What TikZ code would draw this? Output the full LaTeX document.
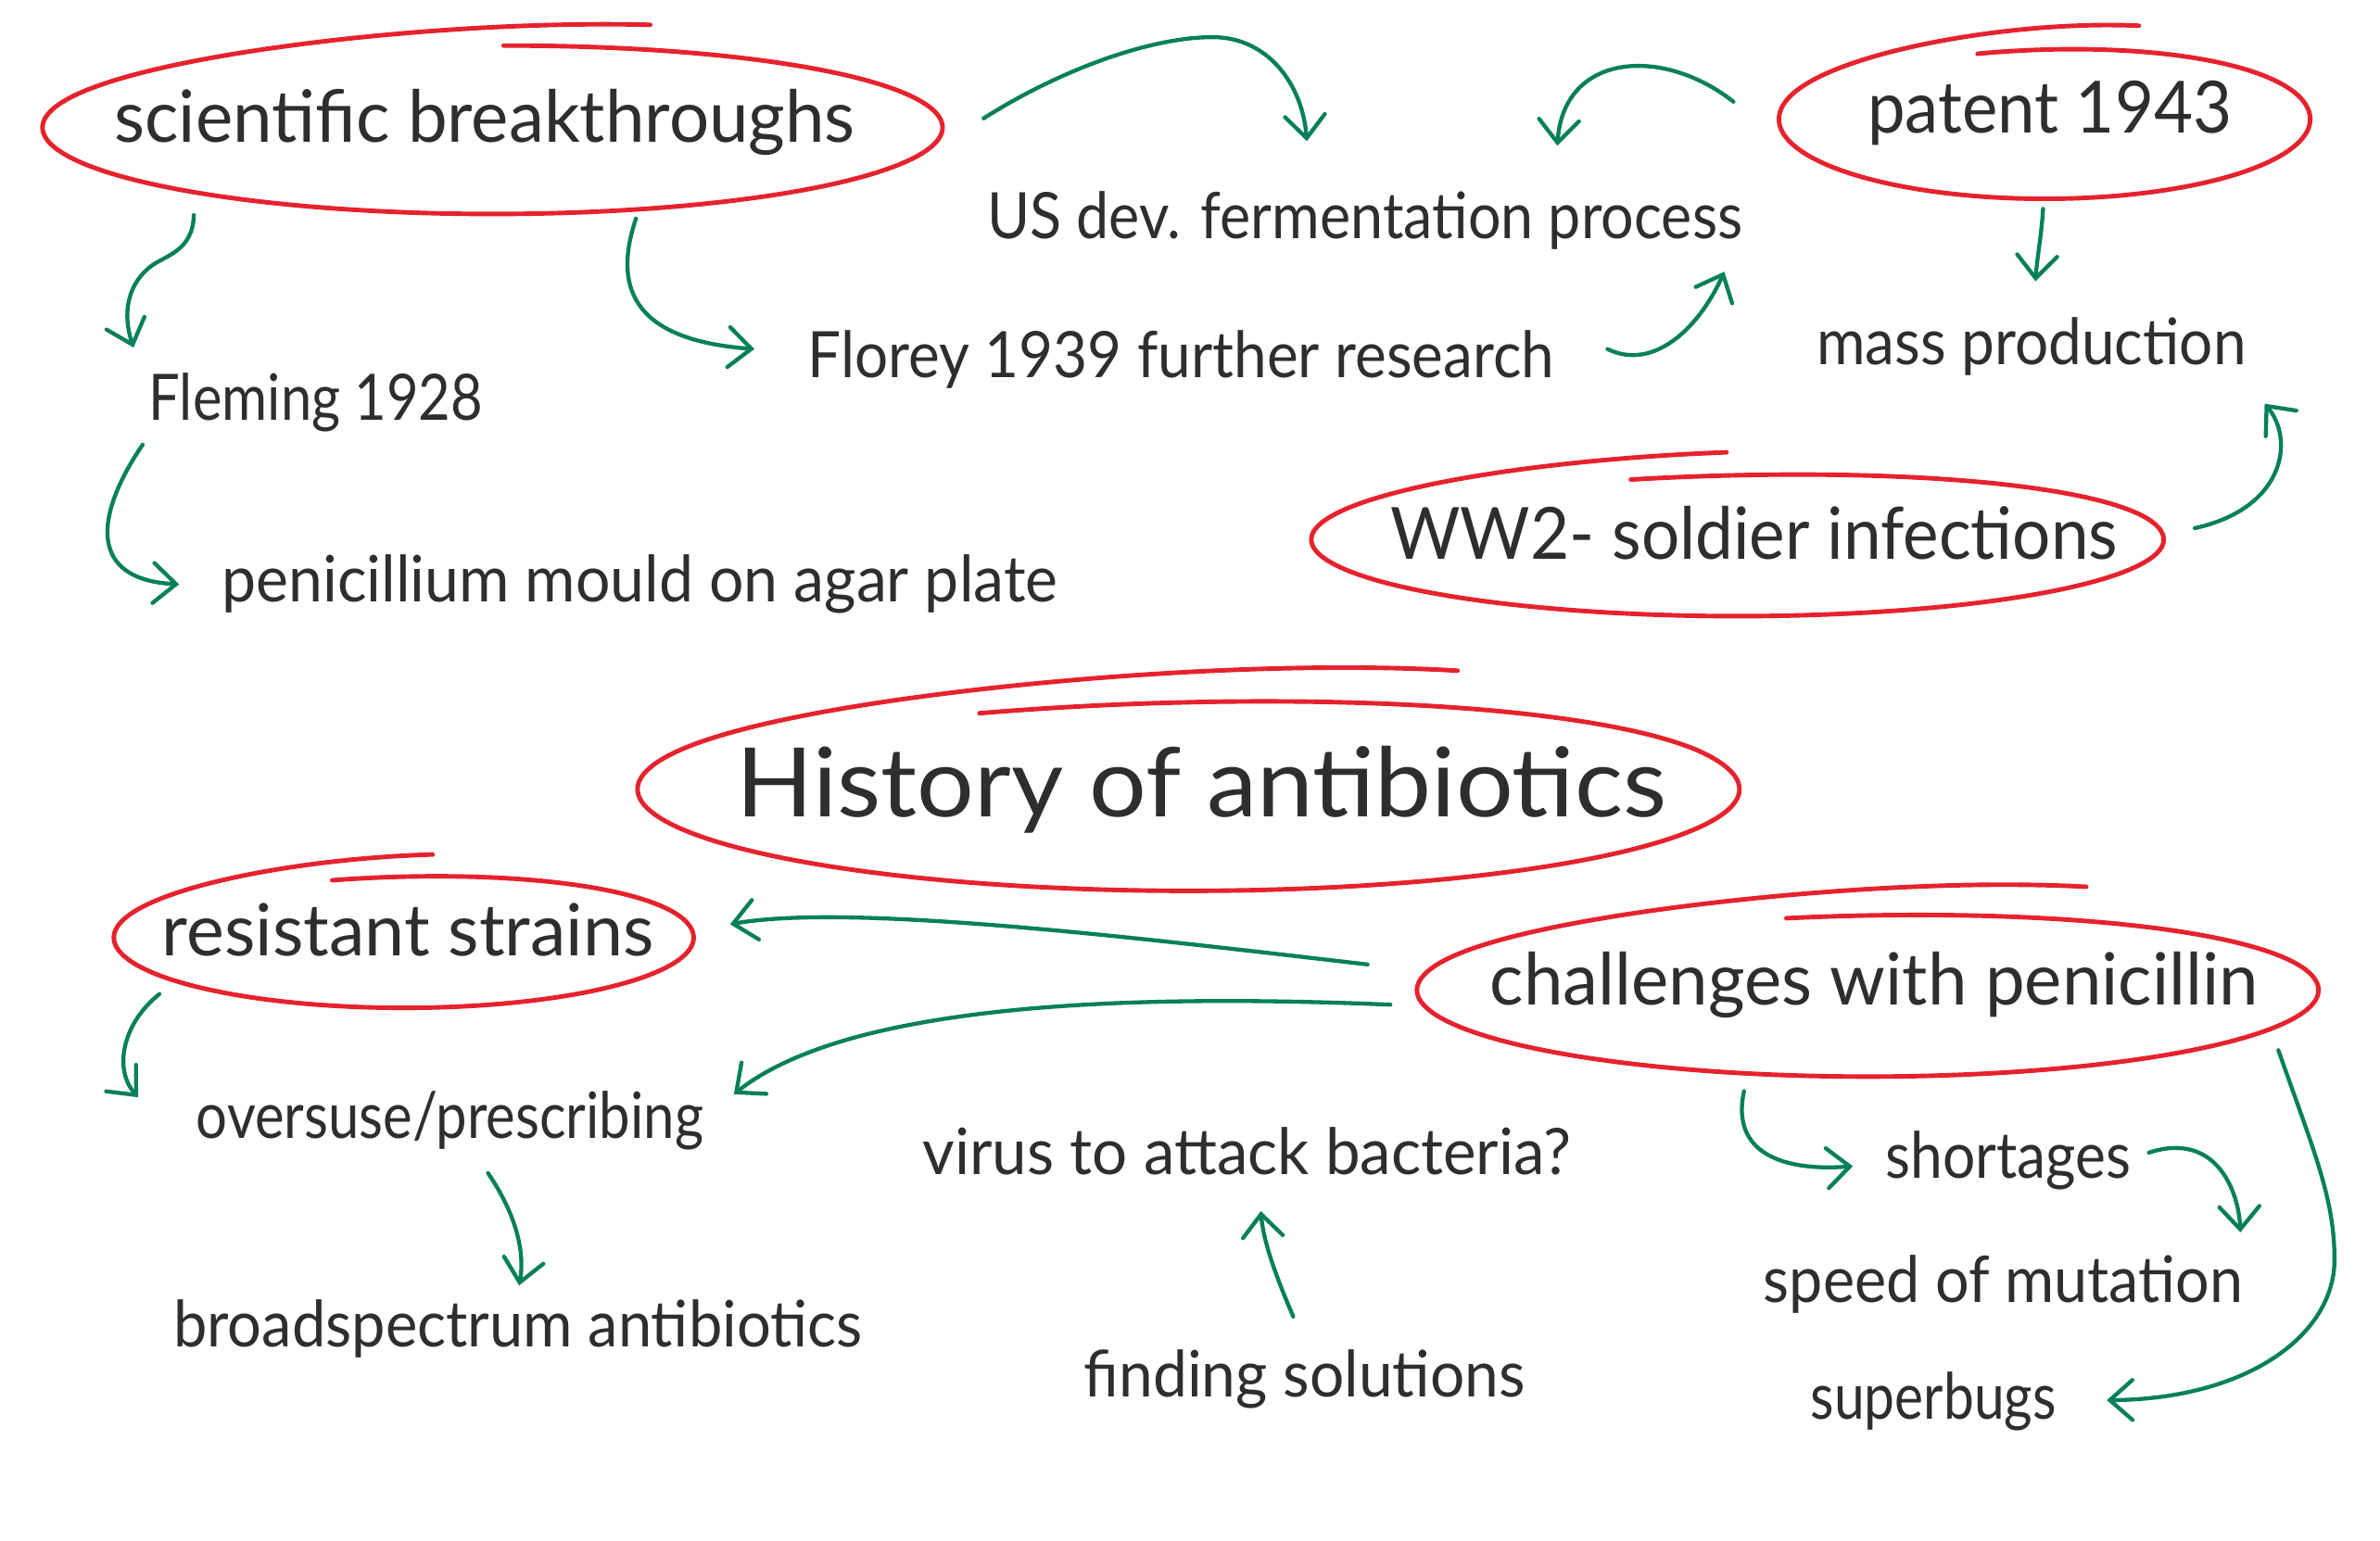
\documentclass[tikz,border=0pt]{standalone}
\usepackage{fontspec}
\setmainfont{Lato}
\usepackage{graphicx}
\usetikzlibrary{arrows.meta}
\definecolor{redl}{HTML}{E6222D}
\definecolor{greenl}{HTML}{06805A}
\definecolor{ink}{HTML}{2E2E2E}
\newsavebox\fitbox
\newcommand{\fitw}[2]{\sbox\fitbox{#2}\pgfmathsetmacro\fitr{#1*0.56693/\wd\fitbox}\scalebox{\fitr}[1]{\usebox\fitbox}}
% cx cy rx ry tstart tend Fstart Fend
\newcommand{\sketchloop}[8]{%
  \pgfmathsetmacro\skD{#5-#6+360}%
  \draw[redline] plot[domain=0:1, samples=240, variable=\s]
   ({#1+#3*cos(#5-\s*\skD)},{#2-#4*(1+(#7-1)*max(0,1-\s*\skD/90)+(#8-1)*(max(0,1-(1-\s)*\skD/90))^2)*sin(#5-\s*\skD)});
}
\begin{document}
\begin{tikzpicture}[x=0.02cm,y=-0.02cm,
  redline/.style={draw=redl, line width=1.7pt, line cap=round, line join=round},
  conn/.style={draw=greenl, line width=1.5pt, line cap=round, line join=round, -{Straight Barb[length=8.5pt,width=15pt,line cap=round]}},
  lbl/.style={inner sep=0pt, anchor=base west, text=ink, font=\fontsize{24}{28}\selectfont},
  mlbl/.style={lbl, font=\fontsize{27}{32}\selectfont},
  blbl/.style={lbl, font=\fontsize{36}{42}\selectfont}]
\fill[white] (0,0) rectangle (1568,1015);
\useasboundingbox (0,0) rectangle (1568,1015);

% ellipses
\sketchloop{324.5}{84}{296.5}{57}{88.6}{69.2}{0.947}{1.269}
\sketchloop{1347}{78.5}{175}{52.5}{104.6}{68.9}{0.848}{1.256}
\sketchloop{1144.7}{355.5}{280.8}{50.5}{104.5}{91.2}{0.808}{1.139}
\sketchloop{783}{520}{363}{67}{112.3}{60.45}{0.807}{1.338}
\sketchloop{266}{617.8}{191}{46.3}{104.3}{84}{0.842}{1.19}
\sketchloop{1230.5}{652.4}{297}{57}{100.4}{60.7}{0.845}{1.368}

% texts
\node[mlbl] (sci) at (75,94) {\fitw{490}{scientific breakthroughs}};
\node[mlbl] (patent) at (1230,87.8) {\fitw{241}{patent 1943}};
\node[mlbl] (ww2) at (915.8,368.5) {\fitw{481}{WW2- soldier infections}};
\node[blbl] (hist) at (485,538) {\fitw{615}{History of antibiotics}};
\node[mlbl] (resist) at (106.4,629.6) {\fitw{325.4}{resistant strains}};
\node[mlbl] (chal) at (981.3,662.2) {\fitw{508.4}{challenges with penicillin}};
\node[lbl] (fleming) at (97.7,276.6) {\fitw{221}{Fleming 1928}};
\node[lbl] (florey) at (532,248.6) {\fitw{493.6}{Florey 1939 further research}};
\node[lbl] (penic) at (145.7,396.6) {\fitw{553}{penicillium mould on agar plate}};
\node[lbl] (usdev) at (650,157.5) {\fitw{499.6}{US dev. fermentation process}};
\node[lbl] (mass) at (1196.6,240.4) {\fitw{284}{mass production}};
\node[lbl] (overs) at (129,750.2) {\fitw{335.6}{oversuse/prescribing}};
\node[lbl] (broad) at (113.9,887.3) {\fitw{455.6}{broadspectrum antibiotics}};
\node[lbl] (virus) at (607.5,773.8) {\fitw{429}{virus to attack bacteria?}};
\node[lbl] (finding) at (713.8,920.3) {\fitw{292}{finding solutions}};
\node[lbl] (short) at (1242,776.4) {\fitw{162.3}{shortages}};
\node[lbl] (speed) at (1161.5,858) {\fitw{317}{speed of mutation}};
\node[lbl] (superb) at (1192.6,935.1) {\fitw{162.4}{superbugs}};

% connector end points
\coordinate (sciA) at (127.7,141.7);  \coordinate (flemA) at (88,229);
\coordinate (sciB) at (419,144);      \coordinate (florA) at (497,230);
\coordinate (flemB) at (94,293);      \coordinate (penA) at (118,385);
\coordinate (sciC) at (648,78);       \coordinate (usA) at (861,93);
\coordinate (patA) at (1142,67);      \coordinate (usB) at (1026,96);
\coordinate (florB) at (1059,230);    \coordinate (usC) at (1136,179);
\coordinate (patB) at (1346,137.6);   \coordinate (massA) at (1341,185.3);
\coordinate (wwA) at (1446,348);      \coordinate (massB) at (1492,266);
\coordinate (chalA) at (901,635.5);   \coordinate (resA) at (481,609);
\coordinate (chalB) at (916,662);     \coordinate (ovA) at (483.5,721);
\coordinate (resB) at (105,655);      \coordinate (ovB) at (91,723);
\coordinate (ovC) at (321.5,773);     \coordinate (brA) at (342,847);
\coordinate (findA) at (852,867.5);   \coordinate (virA) at (830.7,798);
\coordinate (chalC) at (1149,719);    \coordinate (shA) at (1220.7,768.4);
\coordinate (shB) at (1415.7,759.5);  \coordinate (spA) at (1476,812);
\coordinate (chalD) at (1501,692);    \coordinate (supA) at (1388,922.6);

% connectors
\draw[conn] (sciA) .. controls (127,165) and (110,168) .. (100,175) .. controls (85,186) and (80,205) .. (flemA);
\draw[conn] (sciB) .. controls (400,200) and (430,225) .. (florA);
\draw[conn] (flemB) .. controls (62,340) and (58,382) .. (penA);
\draw[conn] (sciC) .. controls (700,45) and (760,24) .. (800,24.5) .. controls (835,25) and (858,55) .. (usA);
\draw[conn] (patA) .. controls (1095,30) and (1030,35) .. (usB);
\draw[conn] (florB) .. controls (1090,245) and (1120,215) .. (usC);
\draw[conn] (patB) .. controls (1345,155) and (1342,170) .. (massA);
\draw[conn] (wwA) .. controls (1505,335) and (1512,290) .. (massB);
\draw[conn] (chalA) .. controls (750,618) and (560,595) .. (resA);
\draw[conn] (chalB) .. controls (750,655) and (560,660) .. (ovA);
\draw[conn] (resB) .. controls (80,675) and (75,705) .. (ovB);
\draw[conn] (ovC) .. controls (340,800) and (346,825) .. (brA);
\draw[conn] (findA) .. controls (838,835) and (832,815) .. (virA);
\draw[conn] (chalC) .. controls (1140,760) and (1175,772) .. (shA);
\draw[conn] (shB) .. controls (1460,745) and (1475,785) .. (spA);
\draw[conn] (chalD) .. controls (1525,760) and (1538,790) .. (1538,830) .. controls (1538,880) and (1480,922) .. (supA);
\end{tikzpicture}
\end{document}
